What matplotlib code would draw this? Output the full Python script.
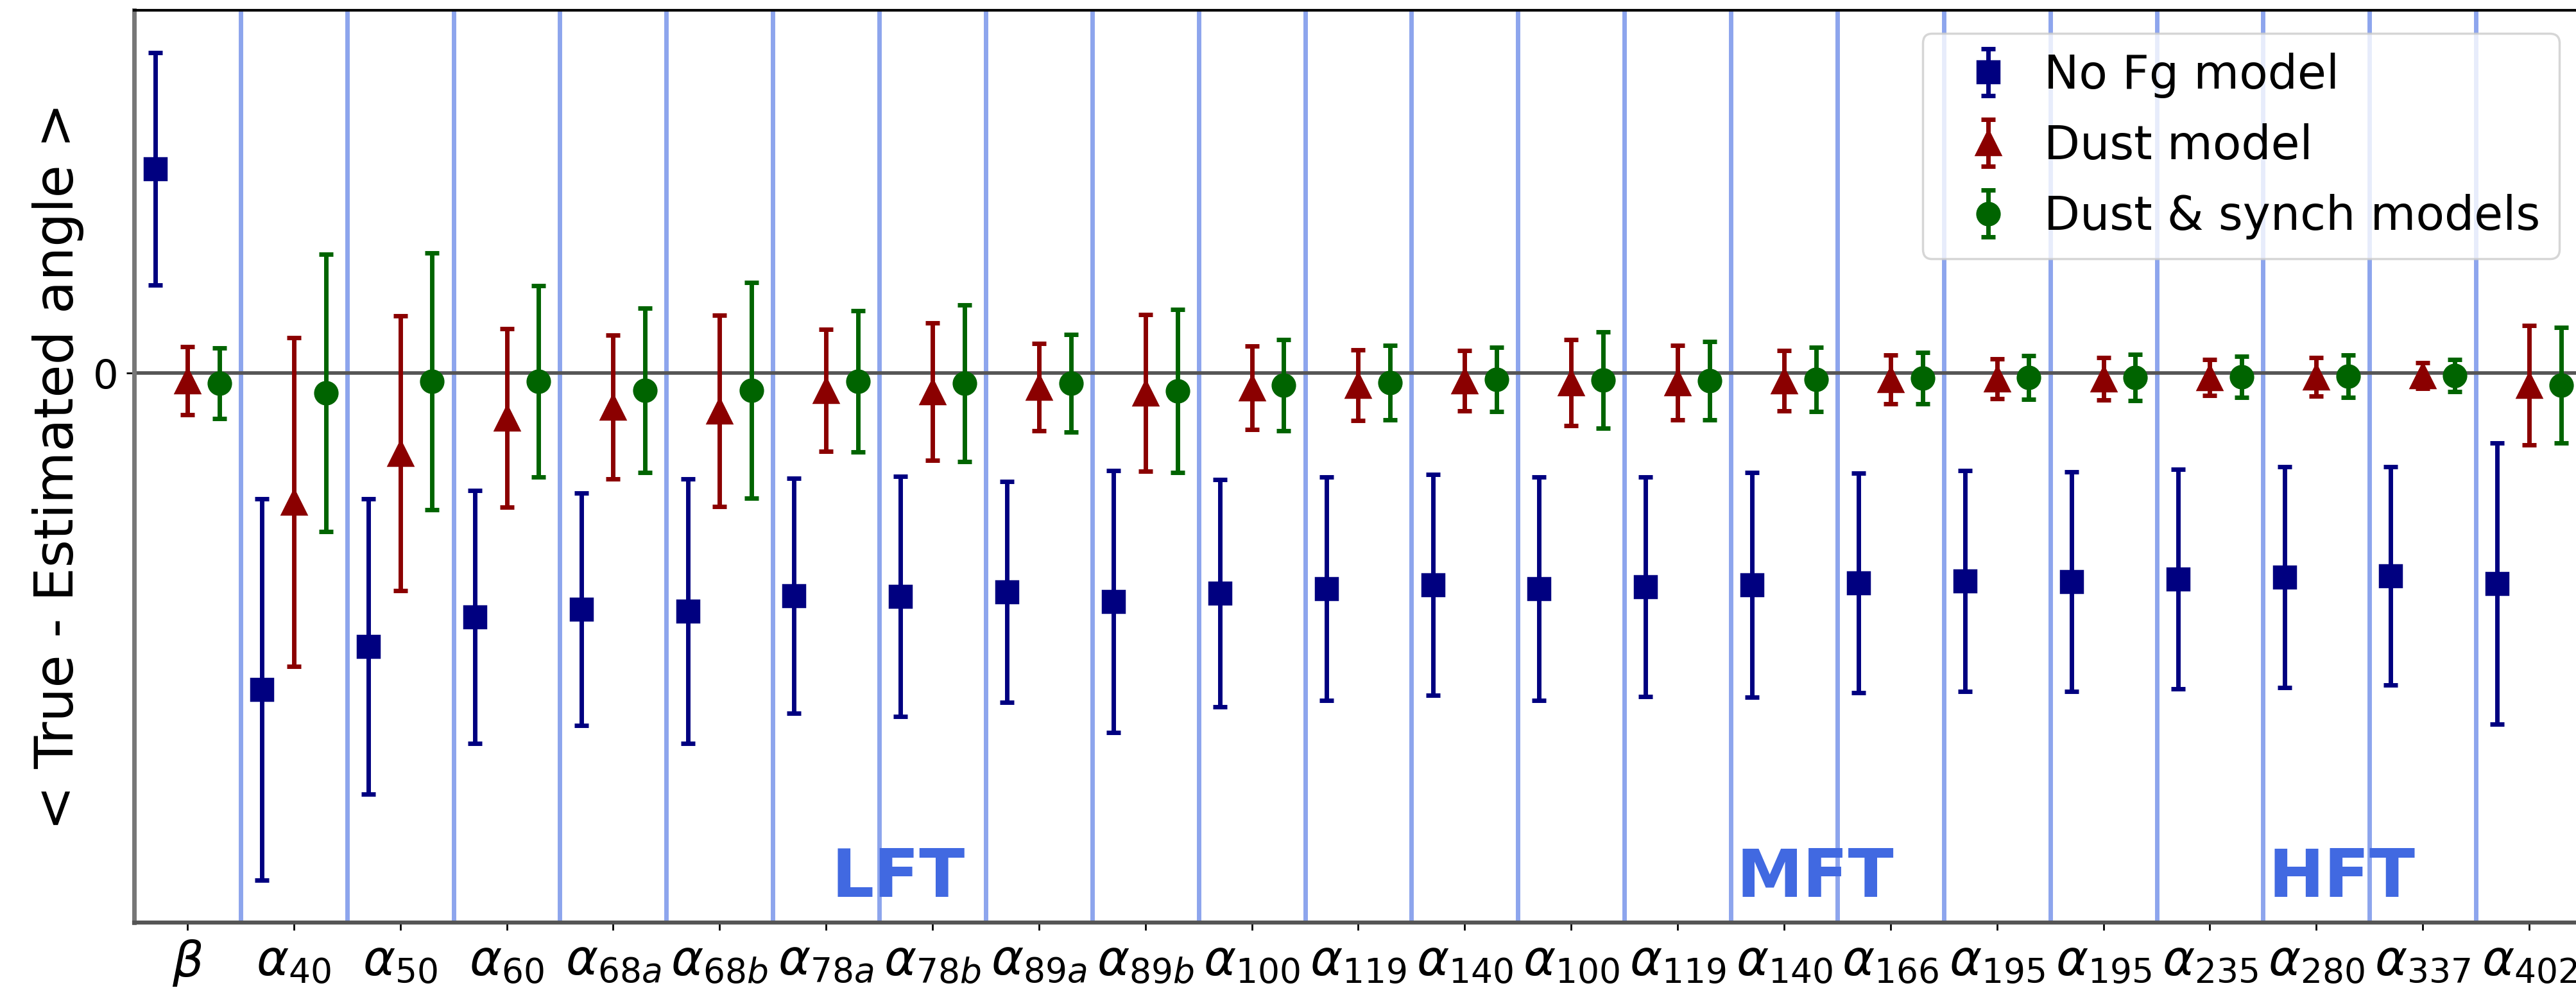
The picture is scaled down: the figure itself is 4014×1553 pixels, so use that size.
import matplotlib
matplotlib.use("Agg")
import matplotlib.pyplot as plt
import numpy as np

# channel labels: beta, then LFT / MFT / HFT frequency channels
labels = [r'$\beta$',
          r'$\alpha_{40}$', r'$\alpha_{50}$', r'$\alpha_{60}$', r'$\alpha_{68a}$', r'$\alpha_{68b}$',
          r'$\alpha_{78a}$', r'$\alpha_{78b}$', r'$\alpha_{89a}$', r'$\alpha_{89b}$', r'$\alpha_{100}$',
          r'$\alpha_{119}$', r'$\alpha_{140}$',
          r'$\alpha_{100}$', r'$\alpha_{119}$', r'$\alpha_{140}$', r'$\alpha_{166}$', r'$\alpha_{195}$',
          r'$\alpha_{195}$', r'$\alpha_{235}$', r'$\alpha_{280}$', r'$\alpha_{337}$', r'$\alpha_{402}$']
instruments = ['LFT', 'MFT', 'HFT']
instrument_sizes = [12, 5, 5]

# < true - estimated angle >, arbitrary units
nofg = [3.18, -4.93, -4.26, -3.80, -3.68, -3.71, -3.47, -3.48, -3.41, -3.56, -3.43, -3.36,
        -3.30, -3.36, -3.33, -3.30, -3.27, -3.24, -3.25, -3.21, -3.18, -3.16, -3.28]
nofg_err = [1.81, 2.97, 2.30, 1.97, 1.81, 2.06, 1.83, 1.87, 1.72, 2.04, 1.77, 1.74,
            1.72, 1.74, 1.71, 1.75, 1.71, 1.72, 1.71, 1.71, 1.72, 1.70, 2.19]
dust = [-0.12, -2.01, -1.25, -0.70, -0.53, -0.59, -0.27, -0.29, -0.22, -0.31, -0.23, -0.19,
        -0.12, -0.15, -0.15, -0.12, -0.10, -0.09, -0.09, -0.07, -0.06, -0.04, -0.19]
dust_err = [0.53, 2.56, 2.14, 1.39, 1.12, 1.49, 0.95, 1.07, 0.68, 1.22, 0.65, 0.55,
            0.47, 0.67, 0.58, 0.47, 0.38, 0.31, 0.33, 0.28, 0.30, 0.20, 0.93]
synch = [-0.16, -0.31, -0.13, -0.13, -0.27, -0.27, -0.13, -0.16, -0.16, -0.28, -0.19, -0.15,
         -0.10, -0.11, -0.12, -0.10, -0.08, -0.07, -0.07, -0.06, -0.05, -0.04, -0.19]
synch_err = [0.55, 2.16, 2.00, 1.49, 1.28, 1.68, 1.10, 1.22, 0.76, 1.27, 0.71, 0.58,
             0.50, 0.75, 0.61, 0.50, 0.40, 0.34, 0.36, 0.32, 0.33, 0.25, 0.90]

W, H, DPI = 4015, 1553, 250
fig = plt.figure(figsize=(W / DPI, H / DPI), dpi=DPI)
# axes runs slightly past the right edge, as in the original crop
ax = fig.add_axes([209 / W, 116 / H, (4024 - 209) / W, (1437 - 16) / H])

x = np.arange(len(labels))

# separators between channels
for xv in x[:-1] + 0.5:
    ax.axvline(xv, color='royalblue', alpha=0.6, lw=2, zorder=1)
ax.axhline(0, color='#555555', lw=1.6, zorder=1.5)

kw = dict(capsize=3.3, capthick=2, elinewidth=2, zorder=3)
ax.errorbar(x - 0.3, nofg, yerr=nofg_err, fmt='s', color='navy', ms=10, label='No Fg model', **kw)
ax.errorbar(x, dust, yerr=dust_err, fmt='^', color='darkred', ms=11, label='Dust model', **kw)
ax.errorbar(x + 0.3, synch, yerr=synch_err, fmt='o', color='darkgreen', ms=10,
            label='Dust & synch models', **kw)

# instrument names, placed in the middle of each block
start = 0.5
for name, n in zip(instruments, instrument_sizes):
    mid = start + n / 2
    ax.text(mid - 0.45, -8.16, name, color='royalblue', fontsize=30, fontweight='bold',
            ha='left', va='baseline')
    start += n

ax.set_xlim(-0.5, len(labels) - 0.5)
ax.set_ylim(-8.56, 5.65)
ax.set_xticks(x)
ax.set_xticklabels(labels)
ax.set_yticks([0])
ax.tick_params(axis='x', labelsize=22)
ax.tick_params(axis='y', labelsize=18)
ax.set_ylabel('< True - Estimated angle >', fontsize=24)

ax.spines['left'].set_color('#777777')
ax.spines['left'].set_linewidth(2)
ax.spines['bottom'].set_color('#555555')
ax.spines['bottom'].set_linewidth(1.8)
ax.spines['top'].set_linewidth(1.2)

ax.legend(loc='upper right', fontsize=21, handletextpad=0.2, labelspacing=0.54)

fig.savefig('out.png', dpi=DPI)
